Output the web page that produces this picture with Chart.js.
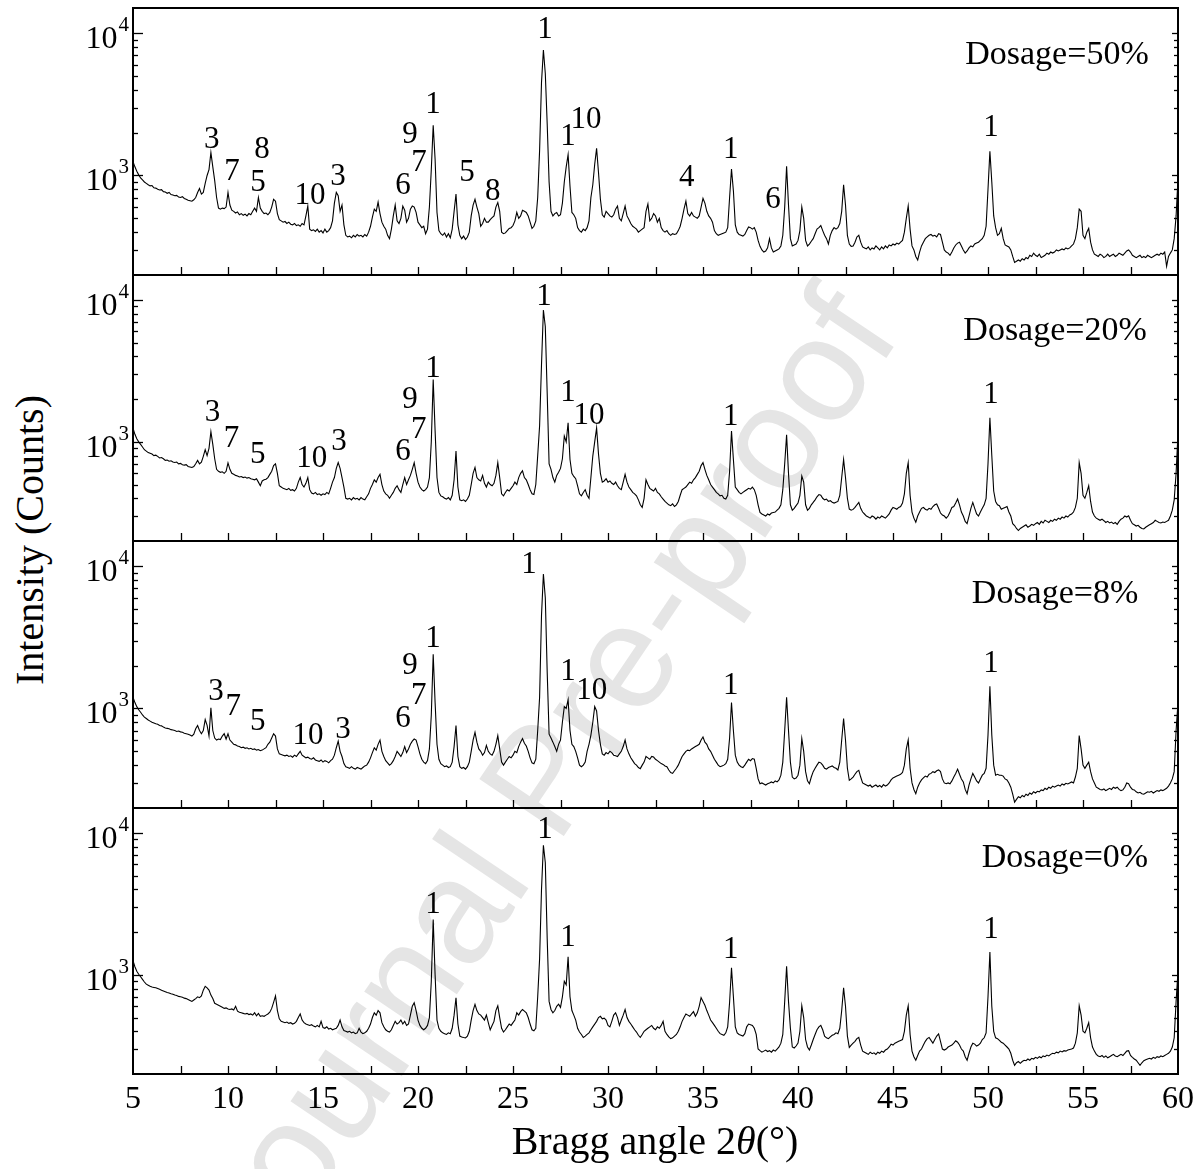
<!DOCTYPE html>
<html>
<head>
<meta charset="utf-8">
<title>XRD patterns at different dosages</title>
<script src="https://cdn.jsdelivr.net/npm/chart.js@4.4.1/dist/chart.umd.min.js"></script>
<style>
  html, body { margin: 0; padding: 0; background: #fff; }
  #page { position: relative; width: 1204px; height: 1169px; overflow: hidden;
          font-family: "Liberation Serif", "Times New Roman", serif; color: #000; }
  canvas { position: absolute; left: 0; z-index: 1; }
  #ytitle { position: absolute; left: 29px; top: 540px; font-size: 40px; white-space: nowrap;
            transform: translate(-50%, -50%) rotate(-90deg); }
  #xtitle { position: absolute; left: 655px; top: 1121px; font-size: 40px; line-height: 40px;
            white-space: nowrap; transform: translateX(-50%); z-index: 1; }
  #watermark { position: absolute; left: 540px; top: 780px; white-space: nowrap; pointer-events: none;
               font: 148px "Liberation Sans", Arial, sans-serif; color: #e5e5e5; z-index: 0;
               transform: translate(-50%, -50%) rotate(-56deg); }
</style>
</head>
<body>
<div id="page">
  <div id="watermark">Journal Pre-proof</div>
  <canvas id="xrd50" width="1204" height="279"></canvas>
  <canvas id="xrd20" width="1204" height="278"></canvas>
  <canvas id="xrd8" width="1204" height="279"></canvas>
  <canvas id="xrd0" width="1204" height="367"></canvas>
  <div id="ytitle">Intensity (Counts)</div>
  <div id="xtitle">Bragg angle 2<i>θ</i>(°)</div>
</div>
<script>
// scan grid: 5° to 60°, 0.1° step
const scanStart = 5;
const scanStep = 0.1;
const scanPoints = 551;
const angles = Array.from({ length: scanPoints }, (_, k) => Math.round((scanStart + k * scanStep) * 10) / 10);

// counts, one row per degree (x.0 .. x.9)
const dosage50 = [
  [1250,1150,1070,1010,960,930,900,880,860,845],
  [850,820,815,800,790,795,770,765,750,760],
  [735,730,720,725,705,700,710,690,680,670],
  [665,660,675,700,760,810,740,760,880,1000],
  [1100,1450,1150,920,700,590,580,590,585,600],
  [760,620,570,560,545,555,530,540,525,535],
  [520,540,530,560,590,560,700,590,560,540],
  [545,530,550,600,680,660,540,490,480,470],
  [475,460,470,455,450,460,445,450,440,460],
  [450,520,610,420,410,415,405,420,400,410],
  [395,420,400,410,430,480,640,760,720,560],
  [620,450,380,370,375,365,380,370,385,375],
  [380,370,385,375,400,440,510,580,560,650],
  [540,470,440,420,380,360,420,520,620,480],
  [460,500,610,570,470,500,580,610,600,550],
  [470,450,430,440,390,420,600,1100,2250,1300],
  [550,410,390,380,395,370,390,365,420,560],
  [740,450,380,360,375,355,370,400,520,620],
  [680,600,540,440,460,500,470,470,490,505],
  [520,600,645,560,400,390,395,410,425,430],
  [445,480,550,500,520,570,560,550,520,470],
  [425,440,480,700,1500,4500,7600,5200,2300,900],
  [560,520,540,550,520,530,640,900,1150,1400],
  [840,550,530,500,430,410,400,420,410,430],
  [480,700,860,1200,1550,1050,680,530,510,560],
  [540,520,510,530,580,610,500,480,540,610],
  [520,490,460,440,430,420,400,410,420,430],
  [560,630,480,500,540,520,470,500,430,410],
  [400,410,390,380,390,385,390,410,440,500],
  [580,660,540,520,550,520,510,500,520,600],
  [690,640,560,520,500,470,410,390,380,385],
  [390,395,400,430,700,1110,780,450,400,385],
  [380,375,385,410,435,430,420,430,400,350],
  [318,300,290,295,310,360,310,290,295,300],
  [305,320,380,600,1160,620,360,320,325,330],
  [350,410,600,500,350,320,330,345,360,390],
  [420,430,445,410,380,360,330,380,410,430],
  [420,430,460,560,860,620,380,330,318,320],
  [340,370,380,340,315,310,305,315,300,310],
  [305,320,310,300,315,305,320,310,325,320],
  [330,325,335,330,340,350,400,500,610,420],
  [320,300,270,255,290,320,340,360,370,380],
  [385,375,380,370,390,385,340,300,290,285],
  [275,290,310,325,335,340,320,300,285,295],
  [310,320,315,330,335,340,350,360,380,440],
  [800,1480,900,520,430,380,390,425,360,325],
  [320,315,300,270,245,250,255,250,260,255],
  [265,260,275,270,285,275,270,280,265,270],
  [275,285,280,290,285,290,300,295,300,305],
  [300,310,305,310,320,330,360,430,580,560],
  [380,360,400,425,340,300,280,275,270,280],
  [275,265,270,280,270,275,280,270,275,285],
  [280,275,285,295,300,290,275,270,265,270],
  [275,265,270,265,275,270,265,270,275,280],
  [275,285,280,290,230,270,285,300,360,520],
  [950]
];

const dosage20 = [
  [1250,1130,1050,1000,960,920,880,860,840,830],
  [820,800,805,790,770,775,760,740,745,730],
  [735,720,715,720,700,705,690,685,690,670],
  [665,660,670,700,740,700,720,790,880,800],
  [900,1180,960,760,640,620,610,615,600,620],
  [710,640,600,590,580,575,565,570,560,565],
  [555,560,550,545,540,550,520,490,530,540],
  [545,560,590,620,680,700,600,490,480,470],
  [465,460,470,455,460,450,470,520,560,500],
  [480,510,560,460,435,430,440,425,430,420],
  [430,425,440,430,470,520,560,650,714,650],
  [560,480,400,395,400,390,405,395,400,390],
  [405,395,390,410,430,470,500,540,520,560],
  [590,500,450,430,420,400,420,440,470,490],
  [460,440,500,560,500,540,580,640,714,600],
  [520,480,460,450,460,480,560,1000,2750,1200],
  [560,440,416,410,400,395,405,390,420,540],
  [860,480,390,385,390,380,395,420,500,600],
  [660,560,540,530,580,510,480,520,500,490],
  [510,580,714,560,430,416,440,460,450,470],
  [490,520,500,560,600,625,560,540,500,460],
  [430,425,500,800,1300,3500,8500,6500,2200,700],
  [640,560,520,580,610,650,760,1100,1000,1362],
  [750,600,570,550,490,430,416,440,460,420],
  [400,560,794,1000,1250,820,600,520,530,550],
  [520,530,510,500,520,490,470,460,520,590],
  [520,480,460,440,430,416,390,360,345,400],
  [540,500,470,460,450,470,440,430,410,395],
  [380,370,360,355,365,350,360,380,420,460],
  [470,480,500,520,510,540,560,590,620,680],
  [714,640,580,540,500,480,460,440,430,416],
  [420,400,395,420,620,1190,750,480,460,440],
  [430,440,450,460,470,464,480,460,420,360],
  [318,310,305,300,310,305,315,318,320,330],
  [340,360,460,700,1120,600,360,330,340,355],
  [370,420,575,520,360,330,340,360,374,390],
  [410,425,420,400,390,395,380,385,375,370],
  [375,380,420,560,750,560,400,336,330,334],
  [345,360,374,340,320,310,300,295,290,300],
  [295,285,295,290,300,295,290,300,310,330],
  [345,340,335,345,350,370,430,600,714,420],
  [320,290,271,300,320,340,345,335,330,340],
  [335,350,360,365,340,315,305,300,290,300],
  [320,345,350,370,395,360,320,300,275,265],
  [300,340,374,340,310,300,320,340,360,400],
  [700,1480,800,450,380,360,355,335,340,345],
  [350,320,300,265,257,245,237,245,250,255],
  [260,250,255,262,258,265,270,262,275,268],
  [280,275,270,280,275,285,280,290,285,295],
  [290,300,295,305,310,320,345,400,714,600],
  [420,400,440,490,380,320,300,290,285,280],
  [285,278,270,275,268,272,265,270,262,275],
  [285,290,300,295,301,280,265,260,255,258],
  [250,245,243,250,255,260,265,270,280,275],
  [270,268,272,270,275,280,300,330,390,600],
  [1150]
];

const dosage8 = [
  [1200,1100,1030,980,940,900,870,850,830,815],
  [800,790,780,775,760,755,740,730,725,720],
  [710,705,700,690,695,685,680,670,665,660],
  [650,640,660,720,760,700,665,700,835,760],
  [640,1010,700,620,600,610,605,640,665,610],
  [665,600,580,560,555,545,540,530,535,525],
  [530,520,525,515,520,510,515,505,510,520],
  [530,560,580,620,665,640,520,480,475,470],
  [465,470,460,465,455,470,460,480,500,470],
  [460,450,455,445,440,450,435,430,425,435],
  [420,430,425,415,430,440,470,530,590,500],
  [460,410,390,385,380,390,380,375,385,380],
  [375,385,395,400,420,450,490,530,510,560],
  [600,500,460,430,415,400,410,430,460,500],
  [480,460,490,540,490,520,560,590,610,600],
  [540,480,440,420,410,430,520,900,2400,1100],
  [560,440,410,400,390,395,385,390,420,540],
  [760,460,390,380,385,375,390,420,500,600],
  [680,580,520,500,470,490,550,500,480,470],
  [500,560,645,520,420,400,420,440,460,450],
  [470,500,490,540,580,615,570,545,500,450],
  [415,409,440,700,1200,4500,8800,6000,1800,660],
  [620,580,540,500,560,600,800,1030,1000,1150],
  [700,560,540,500,450,400,390,400,420,500],
  [560,650,800,1030,960,700,560,480,470,490],
  [480,500,490,470,465,460,480,500,540,600],
  [520,480,450,430,410,400,385,378,400,420],
  [460,450,440,460,456,440,430,420,410,405],
  [395,390,370,355,350,365,380,400,430,460],
  [480,500,510,505,520,530,540,550,560,600],
  [631,580,560,520,500,470,440,420,400,390],
  [395,400,410,440,620,1100,700,470,420,400],
  [390,385,400,420,440,430,445,440,380,320],
  [296,300,295,290,296,300,305,300,310,305],
  [315,340,420,700,1200,700,420,330,320,325],
  [340,400,615,500,360,310,296,330,360,380],
  [400,420,415,400,380,375,385,390,395,385],
  [380,370,420,600,850,600,380,313,320,330],
  [345,360,368,330,300,295,290,285,290,280],
  [285,290,282,288,280,292,285,290,300,315],
  [325,330,335,340,345,355,400,520,600,380],
  [300,270,252,280,300,315,325,335,330,345],
  [350,360,355,365,370,360,320,300,296,300],
  [296,310,330,350,375,345,320,305,270,252],
  [290,320,350,330,310,300,320,340,350,380],
  [650,1430,650,400,340,345,340,340,335,320],
  [315,300,280,250,220,230,240,236,245,240],
  [250,245,255,250,260,255,262,260,268,265],
  [275,270,280,275,285,280,285,290,285,295],
  [290,298,295,300,305,300,330,380,645,520],
  [400,380,400,420,360,320,300,280,275,270],
  [268,272,265,270,275,270,280,275,280,270],
  [265,268,280,300,296,280,270,268,260,255],
  [258,252,250,255,260,258,262,255,260,265],
  [262,268,265,270,275,285,300,320,360,700],
  [1100]
];

const dosage0 = [
  [1260,1140,1060,1010,970,930,890,860,845,830],
  [820,815,810,800,790,780,770,760,750,745],
  [735,730,720,715,705,700,695,685,680,670],
  [660,650,665,680,700,690,710,780,830,810],
  [780,720,680,630,620,610,600,590,580,585],
  [575,570,575,565,600,555,545,540,535,530],
  [535,525,530,520,540,515,535,510,515,510],
  [520,530,545,580,640,710,560,490,470,465],
  [460,465,455,460,450,455,470,500,530,480],
  [460,450,445,440,445,435,430,440,430,470],
  [425,420,430,415,420,410,415,420,440,480],
  [430,405,400,395,400,390,395,385,390,420],
  [395,385,390,400,420,450,500,540,520,560],
  [540,460,430,410,400,395,410,440,470,450],
  [460,480,450,470,440,450,520,600,635,560],
  [480,440,420,410,420,440,500,900,2450,1000],
  [480,420,400,390,385,380,390,385,420,520],
  [690,450,370,365,362,360,370,400,480,560],
  [620,560,530,520,500,480,520,460,410,440],
  [470,560,605,500,420,395,410,430,450,440],
  [460,480,540,520,550,570,555,540,500,450],
  [410,403,420,700,1300,4000,8200,6200,1800,650],
  [570,540,560,600,621,590,700,900,850,1340],
  [700,560,520,480,420,395,380,362,370,380],
  [390,410,430,449,470,500,510,490,495,480],
  [440,430,470,520,540,500,440,480,520,570],
  [500,470,450,430,410,395,375,362,380,400],
  [410,420,430,440,420,410,430,420,440,470],
  [400,380,365,355,360,370,380,400,430,470],
  [500,530,520,510,530,550,510,540,600,691],
  [650,610,560,520,480,460,440,420,400,385],
  [380,375,390,430,640,1120,700,430,390,380],
  [375,370,385,430,450,445,440,420,380,300],
  [292,285,290,295,288,292,285,295,290,300],
  [310,330,380,650,1150,650,420,310,305,315],
  [330,400,605,500,350,310,295,320,350,380],
  [410,430,440,410,370,360,355,365,375,380],
  [390,385,420,560,810,600,370,308,320,330],
  [340,355,362,320,290,285,280,275,285,278],
  [282,275,285,280,290,285,295,300,310,325],
  [320,330,335,340,345,350,400,520,605,380],
  [290,265,250,270,290,300,320,340,355,362],
  [345,330,350,370,383,340,300,295,300,310],
  [315,320,330,343,335,320,300,290,265,250],
  [280,310,330,325,315,320,330,350,360,390],
  [700,1450,600,400,360,355,345,335,330,320],
  [310,300,280,250,230,240,245,238,245,250],
  [248,255,250,258,255,262,258,265,260,268],
  [265,272,268,275,280,278,285,282,290,286],
  [292,290,295,298,300,305,330,390,605,520],
  [400,390,420,460,360,310,290,275,268,265],
  [270,262,268,260,265,270,275,268,265,270],
  [275,270,280,290,292,270,262,255,250,240],
  [230,240,248,252,255,258,255,262,258,265],
  [262,268,265,270,275,280,290,310,360,650],
  [1060]
];

// phase labels: [text, 2θ, counts]
const marks50 = [
  ['3', 9.14, 1775], ['7', 10.21, 1057], ['8', 11.79, 1510], ['5', 11.58, 885],
  ['10', 14.32, 718], ['3', 15.79, 975], ['9', 19.58, 1923], ['6', 19.21, 843],
  ['7', 20.05, 1222], ['1', 20.79, 3126], ['5', 22.58, 1040], ['8', 23.93, 766],
  ['1', 26.68, 10500], ['1', 27.89, 1862], ['10', 28.84, 2450], ['4', 34.14, 960],
  ['1', 36.46, 1510], ['6', 38.68, 673], ['1', 50.16, 2153]
];
const marks20 = [
  ['3', 9.19, 1612], ['7', 10.19, 1057], ['5', 11.56, 816], ['10', 14.41, 753],
  ['3', 15.84, 995], ['6', 19.21, 847], ['9', 19.58, 1986], ['7', 20.04, 1222],
  ['1', 20.79, 3281], ['1', 26.63, 10560], ['1', 27.89, 2225], ['10', 29.0, 1517],
  ['1', 36.46, 1510], ['1', 50.16, 2153]
];
const marks8 = [
  ['3', 9.37, 1306], ['7', 10.28, 1023], ['5', 11.56, 803], ['10', 14.21, 641],
  ['3', 16.05, 710], ['6', 19.21, 847], ['9', 19.58, 1986], ['7', 20.04, 1222],
  ['1', 20.79, 3093], ['1', 25.84, 10160], ['1', 27.89, 1803], ['10', 29.14, 1327],
  ['1', 36.46, 1439], ['1', 50.16, 2060]
];
const marks0 = [
  ['1', 20.79, 3126], ['1', 26.68, 10500], ['1', 27.89, 1824], ['1', 36.46, 1510],
  ['1', 50.16, 2085]
];

const dosageNames = ['Dosage=50%', 'Dosage=20%', 'Dosage=8%', 'Dosage=0%'];
const dosageAt = [[53.63, 7015], [53.53, 5995], [53.53, 6400], [54.05, 6680]];

const countMin = 200;
const countMax = 15000;
const decadeTicks = [1000, 10000];
const minorTicks = [300, 400, 500, 600, 700, 800, 900, 2000, 3000, 4000, 5000, 6000, 7000, 8000, 9000];

const panels = [
  { id: 'xrd50', counts: dosage50, marks: marks50 },
  { id: 'xrd20', counts: dosage20, marks: marks20 },
  { id: 'xrd8', counts: dosage8, marks: marks8 },
  { id: 'xrd0', counts: dosage0, marks: marks0 }
];

// frame rows on the page
const frameTop = [8, 275, 541, 808];
const frameBottom = [275, 541, 808, 1074];
const edge = 6;
const serif = '"Liberation Serif", "Times New Roman", serif';

function flatten(rows, name) {
  rows.forEach((r, i) => {
    const want = i === rows.length - 1 ? 1 : 10;
    if (r.length !== want) throw new Error(name + ': row ' + (i + 5) + ' has ' + r.length + ' values');
  });
  const out = rows.flat();
  if (out.length !== scanPoints) throw new Error(name + ': ' + out.length + ' values');
  return out;
}

function stroke(ctx, x1, y1, x2, y2) {
  ctx.beginPath();
  ctx.moveTo(x1, y1);
  ctx.lineTo(x2, y2);
  ctx.stroke();
}

const framePlugin = {
  id: 'xrdFrame',
  afterDatasetsDraw(chart, args, opts) {
    const { ctx, chartArea: a, scales: { x, y } } = chart;
    ctx.save();
    ctx.strokeStyle = '#000';
    ctx.lineWidth = 1.3;
    for (const v of minorTicks) {
      const py = Math.round(y.getPixelForValue(v)) + 0.5;
      stroke(ctx, a.left, py, a.left + 5, py);
      stroke(ctx, a.right, py, a.right - 4, py);
    }
    for (const v of decadeTicks) {
      const py = Math.round(y.getPixelForValue(v)) + 0.5;
      stroke(ctx, a.left, py, a.left + 10, py);
      stroke(ctx, a.right, py, a.right - 6, py);
    }
    for (let t = 7.5; t < 60; t += 2.5) {
      const px = Math.round(x.getPixelForValue(t)) + 0.5;
      stroke(ctx, px, a.bottom, px, a.bottom - 8);
    }
    ctx.lineWidth = 2;
    ctx.strokeRect(a.left, a.top, a.right - a.left, a.bottom - a.top);

    // decade labels 10^3, 10^4
    ctx.fillStyle = '#000';
    ctx.textBaseline = 'alphabetic';
    ctx.textAlign = 'left';
    for (const v of decadeTicks) {
      const py = y.getPixelForValue(v);
      const exp = String(Math.round(Math.log10(v)));
      ctx.font = '32px ' + serif;
      const wBase = ctx.measureText('10').width;
      ctx.font = '21px ' + serif;
      const wExp = ctx.measureText(exp).width;
      const x0 = a.left - 5 - wExp - wBase;
      ctx.font = '32px ' + serif;
      ctx.fillText('10', x0, py + 15);
      ctx.font = '21px ' + serif;
      ctx.fillText(exp, x0 + wBase + 1, py - 2);
    }

    // phase numbers and dosage caption
    ctx.textAlign = 'center';
    ctx.textBaseline = 'middle';
    ctx.font = '31px ' + serif;
    for (const [text, ang, cnt] of opts.marks) {
      ctx.fillText(text, x.getPixelForValue(ang), y.getPixelForValue(cnt));
    }
    ctx.font = '34px ' + serif;
    ctx.fillText(opts.caption, x.getPixelForValue(opts.captionAt[0]), y.getPixelForValue(opts.captionAt[1]));
    ctx.restore();
  }
};

panels.forEach((p, i) => {
  const counts = flatten(p.counts, p.id);
  const last = i === panels.length - 1;
  const canvas = document.getElementById(p.id);
  canvas.style.top = (frameTop[i] - edge) + 'px';
  const areaHeight = frameBottom[i] - frameTop[i];

  new Chart(canvas, {
    type: 'line',
    data: {
      datasets: [{
        data: angles.map((a, k) => ({ x: a, y: counts[k] })),
        borderColor: '#000',
        borderWidth: 1.1,
        pointRadius: 0,
        tension: 0,
        fill: false
      }]
    },
    options: {
      responsive: false,
      animation: false,
      events: [],
      layout: {
        autoPadding: false,
        padding: { left: 133, right: 26, top: edge, bottom: last ? 0 : edge }
      },
      plugins: {
        legend: { display: false },
        tooltip: { enabled: false },
        xrdFrame: { marks: p.marks, caption: dosageNames[i], captionAt: dosageAt[i] }
      },
      scales: {
        x: {
          type: 'linear',
          min: 5,
          max: 60,
          display: last,
          grid: { display: false, drawTicks: false },
          border: { display: false },
          ticks: {
            stepSize: 5,
            padding: 6,
            maxRotation: 0,
            color: '#000',
            font: { family: serif, size: 32 }
          },
          afterFit(scale) {
            if (last) scale.height = canvas.height - edge - areaHeight;
          }
        },
        y: {
          type: 'logarithmic',
          min: countMin,
          max: countMax,
          display: false
        }
      }
    },
    plugins: [framePlugin]
  });
});
</script>
</body>
</html>
